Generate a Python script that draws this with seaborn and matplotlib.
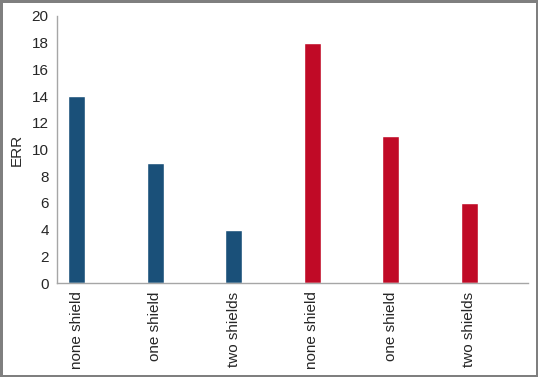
import pandas as pd
import matplotlib
matplotlib.use("Agg")
import matplotlib.pyplot as plt
import seaborn as sns

labels = ["none shield", "one shield", "two shields",
          "none shield", "one shield", "two shields"]
groups = ["A", "A", "A", "B", "B", "B"]
err = [14, 9, 4, 18, 11, 6]

df = pd.DataFrame({"pos": range(len(err)), "group": groups, "ERR": err})

sns.set_style("white")
plt.rcParams["font.family"] = ["Liberation Sans", "DejaVu Sans"]

fig = plt.figure(figsize=(5.38, 3.77), dpi=100)
ax = fig.add_axes([0.106, 0.249, 0.875, 0.709])

sns.barplot(
    data=df, x="pos", y="ERR", hue="group", dodge=False,
    palette={"A": "#1a5079", "B": "#c00a26"}, saturation=1,
    width=0.216, legend=False, ax=ax
)

ax.set_xlim(-0.248, 5.744)
ax.set_ylim(0, 20)
ax.set_yticks(range(0, 21, 2))
ax.set_xticks(range(len(labels)))
ax.set_xticklabels(labels, rotation=90, fontsize=11)
ax.tick_params(axis="y", labelsize=11, length=0, pad=6)
ax.tick_params(axis="x", length=0, pad=6)
ax.set_xlabel("")
ax.set_ylabel("ERR", fontsize=11, labelpad=6)

for s in ["top", "right"]:
    ax.spines[s].set_visible(False)
for s in ["left", "bottom"]:
    ax.spines[s].set_color("#a6a6a6")
    ax.spines[s].set_linewidth(1.0)

fig.patch.set_edgecolor("#7f7f7f")
fig.patch.set_linewidth(2.5)

fig.savefig("out.png", dpi=100, facecolor="white", edgecolor=fig.get_edgecolor())
